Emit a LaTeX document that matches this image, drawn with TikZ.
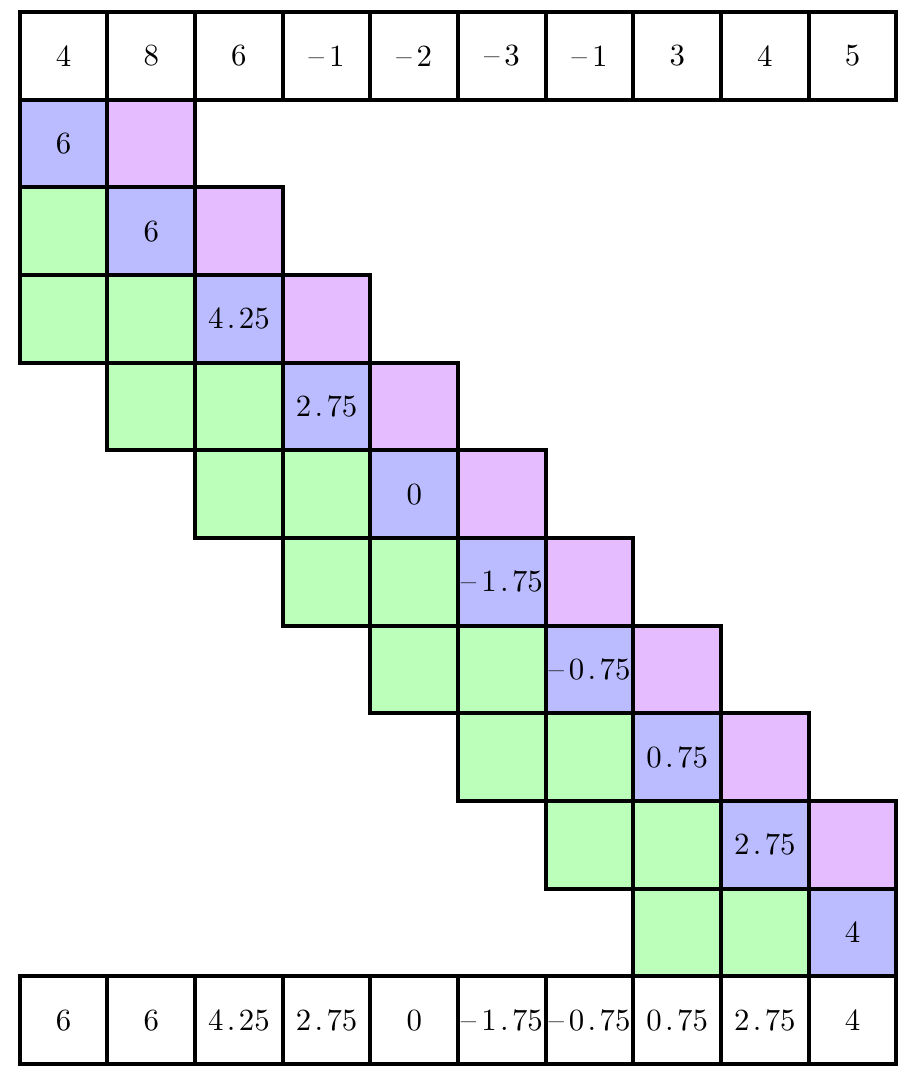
\documentclass[tikz,border=0pt]{standalone}
\definecolor{cellblue}{RGB}{187,187,255}
\definecolor{cellpink}{RGB}{228,188,255}
\definecolor{cellgreen}{RGB}{187,255,187}
\newcommand\dt{\kern1.1pt.\kern1.1pt}
\newcommand\mn{--\kern1.6pt}
\begin{document}
\begin{tikzpicture}[
  cell/.style={draw=black, line width=1.3pt, minimum size=1cm, inner sep=0pt, anchor=center},
  bluecell/.style={cell, fill=cellblue},
  pinkcell/.style={cell, fill=cellpink},
  greencell/.style={cell, fill=cellgreen},
  whitecell/.style={cell, fill=white}]
\useasboundingbox (-0.225,0.137) rectangle (10.255,-12.24);
% top row
\foreach \v [count=\i from 0] in {4,8,6,\mn1,\mn2,\mn3,\mn1,3,4,5}
  \node[whitecell] (t\i) at (\i+0.5,-0.5) {\v};
% bottom row
\foreach \v [count=\i from 0] in {6,6,4\dt25,2\dt75,0,\mn1\dt75,\mn0\dt75,0\dt75,2\dt75,4}
  \node[whitecell] (b\i) at (\i+0.5,-11.5) {\v};
% diagonal band
\foreach \v [count=\r from 1] in {6,6,4\dt25,2\dt75,0,\mn1\dt75,\mn0\dt75,0\dt75,2\dt75,4} {
  \pgfmathtruncatemacro{\cb}{\r-1}
  \pgfmathtruncatemacro{\gA}{\r-3}
  \pgfmathtruncatemacro{\gB}{\r-2}
  \ifnum\gA>-1
    \node[greencell] (g\r-\gA) at (\gA+0.5,-\r-0.5) {};
  \fi
  \ifnum\gB>-1
    \node[greencell] (g\r-\gB) at (\gB+0.5,-\r-0.5) {};
  \fi
  \node[bluecell] (d\r) at (\cb+0.5,-\r-0.5) {\v};
  \ifnum\r<10
    \node[pinkcell] (p\r) at (\r+0.5,-\r-0.5) {};
  \fi
}
\end{tikzpicture}
\end{document}
